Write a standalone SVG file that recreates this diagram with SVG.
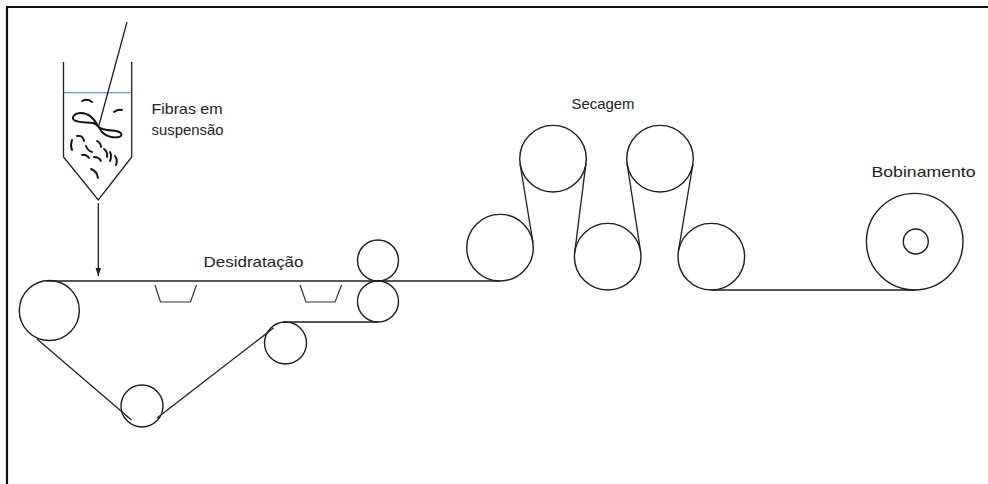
<svg xmlns="http://www.w3.org/2000/svg" width="988" height="484" viewBox="0 0 988 484">
  <defs>
    <style>
      .ln { fill: none; stroke: #1e1e1e; stroke-width: 1.3; }
      .roll { fill: none; stroke: #1e1e1e; stroke-width: 1.4; }
      .fib { fill: none; stroke: #111; stroke-width: 1.9; stroke-linecap: round; }
      .lbl { font-family: "Liberation Sans", Arial, sans-serif; font-size: 14.5px; fill: #222; }
      .box { fill: none; stroke: #333; stroke-width: 1.2; }
    </style>
    <marker id="arrowhead" markerWidth="10" markerHeight="8" refX="8" refY="4" orient="auto" markerUnits="userSpaceOnUse">
      <path d="M0,1.2 L8,4 L0,6.8 z" fill="#1e1e1e"/>
    </marker>
  </defs>

  <rect x="0" y="0" width="988" height="484" fill="#ffffff"/>

  <!-- frame edges -->
  <g id="frame">
    <path d="M7,484 V7 H988" fill="none" stroke="#111" stroke-width="2.2"/>
  </g>

  <!-- headbox with fibre suspension -->
  <g id="hopper">
    <path class="ln" d="M63.5,62 V157 L98.3,200 L131.7,157 V62"/>
    <line x1="63.5" y1="92.7" x2="131.7" y2="92.7" stroke="#4a73c0" stroke-width="1.1"/>
    <line class="ln" x1="127" y1="22" x2="98.5" y2="127"/>
    <!-- fibres -->
    <path class="fib" d="M82,101 Q88,98 92,102"/>
    <path class="fib" d="M114,112 Q118,109 122,110"/>
    <path class="fib" d="M98.3,126.7 C95,120 89,113 81,113 C74,113 71,118 74,120 C78,123 87,122 93,123 C96,124 97,125 98.3,126.7 C102,130 108,130 116,131 C122,132 123,136 119,137 C114,138 107,137 103,133 C101,131 99.5,128 98.3,126.7"/>
    <path class="fib" d="M72,140 Q70,145 72,150"/>
    <path class="fib" d="M77,136 Q83,135 84,141"/>
    <path class="fib" d="M86,146 Q88,151 92,152"/>
    <path class="fib" d="M82,155 Q86,154 89,158"/>
    <path class="fib" d="M94,157 Q99,157 101,161"/>
    <path class="fib" d="M97,141 Q101,143 101,147"/>
    <path class="fib" d="M104,149 Q108,152 107,157"/>
    <path class="fib" d="M110,152 Q112,156 110,161"/>
    <path class="fib" d="M115,156 Q118,160 116,165"/>
    <path class="fib" d="M91,169 Q97,171 98,178"/>
  </g>

  <g id="label-fibras">
    <text class="lbl" x="151.5" y="113.5" textLength="71" lengthAdjust="spacingAndGlyphs">Fibras em</text>
    <text class="lbl" x="151.5" y="135" textLength="72" lengthAdjust="spacingAndGlyphs">suspensão</text>
  </g>

  <!-- forming section rolls -->
  <g id="couch-roll"><circle class="roll" cx="49.3" cy="310.5" r="30"/></g>
  <g id="lower-roll"><circle class="roll" cx="142" cy="406" r="21"/></g>
  <g id="return-roll"><circle class="roll" cx="285.5" cy="343" r="21"/></g>
  <g id="suction-box-1"><polyline class="box" points="155,285 160.5,302 190.5,302 196.5,285"/></g>
  <g id="suction-box-2"><polyline class="box" points="300,285 306,302 335,302 341.5,285"/></g>
  <g id="press-top"><circle class="roll" cx="378" cy="260.5" r="20.5"/></g>
  <g id="press-bottom"><circle class="roll" cx="378" cy="301.5" r="20.5"/></g>
  <g id="label-desidratacao">
    <text class="lbl" x="203.5" y="266.5" textLength="100" lengthAdjust="spacingAndGlyphs">Desidratação</text>
  </g>

  <!-- drying cylinders -->
  <g id="dryer-1"><circle class="roll" cx="500" cy="247.7" r="33.3"/></g>
  <g id="dryer-2"><circle class="roll" cx="553" cy="158.7" r="33.3"/></g>
  <g id="dryer-3"><circle class="roll" cx="607.7" cy="256.7" r="33.3"/></g>
  <g id="dryer-4"><circle class="roll" cx="660" cy="158.7" r="33.3"/></g>
  <g id="dryer-5"><circle class="roll" cx="711.3" cy="256.7" r="33.3"/></g>
  <g id="label-secagem">
    <text class="lbl" x="571.5" y="109" textLength="63" lengthAdjust="spacingAndGlyphs">Secagem</text>
  </g>

  <!-- reel -->
  <g id="reel">
    <circle class="roll" cx="914.7" cy="241.7" r="48.3"/>
    <circle class="roll" cx="915.8" cy="241.5" r="12.5"/>
  </g>
  <g id="label-bobinamento">
    <text class="lbl" x="871.5" y="177" textLength="104" lengthAdjust="spacingAndGlyphs">Bobinamento</text>
  </g>

  <!-- web / felt runs and feed arrow -->
  <g id="connectors">
    <line class="ln" x1="98.3" y1="203" x2="98.3" y2="276" marker-end="url(#arrowhead)"/>
    <path class="ln" d="M47,281 H500"/>
    <path class="ln" d="M37,339 L131.5,420"/>
    <path class="ln" d="M157,418 L273.5,328"/>
    <path class="ln" d="M283,322 H378"/>
    <path class="ln" d="M532.9,242.4 L520.1,164"/>
    <path class="ln" d="M586,162.9 L574.7,252.5"/>
    <path class="ln" d="M640.6,251.7 L627.1,163.7"/>
    <path class="ln" d="M692.9,164.2 L678.4,250.8"/>
    <path class="ln" d="M711.3,290 H915"/>
  </g>
</svg>
